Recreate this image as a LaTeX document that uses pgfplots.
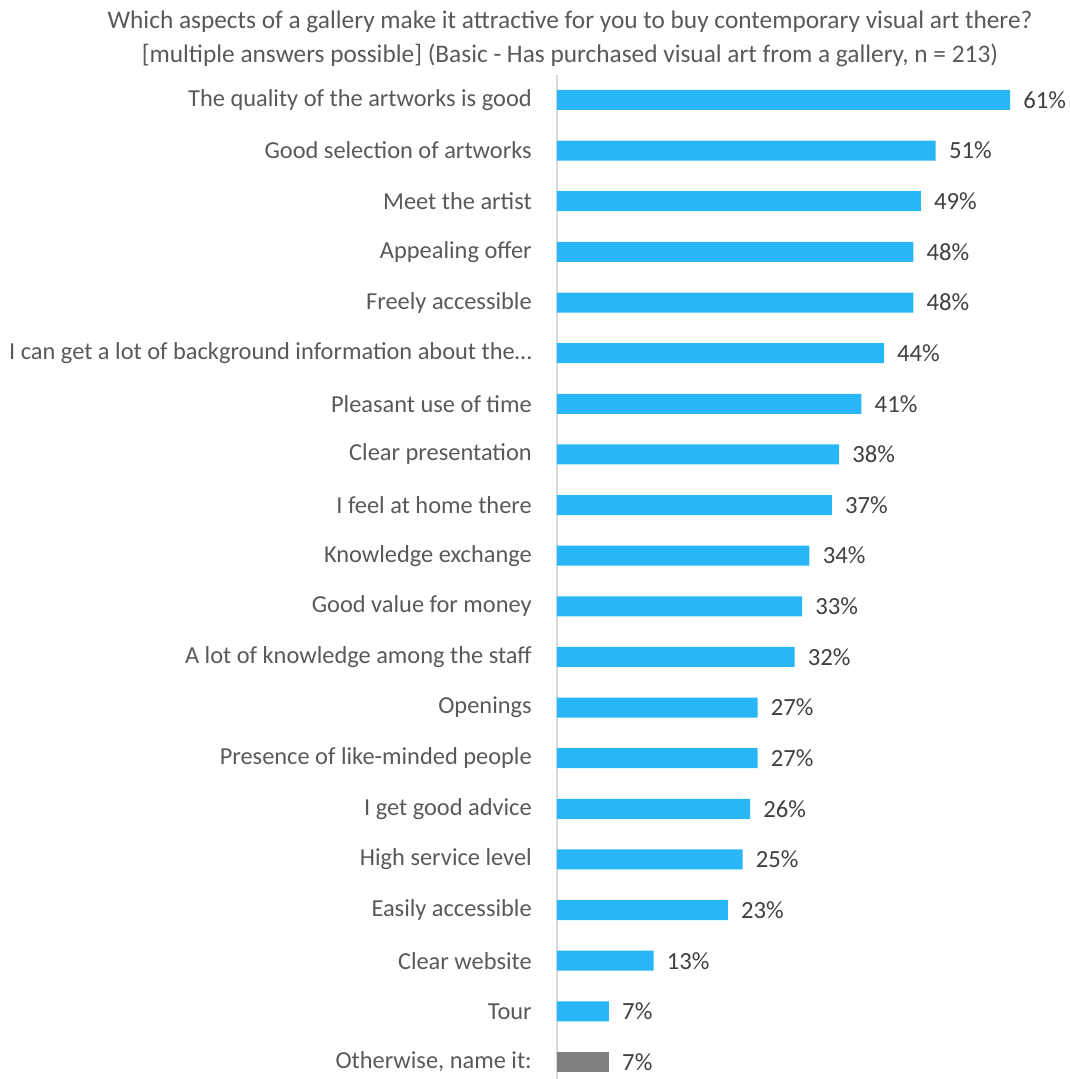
\documentclass[border=0pt]{standalone}
\usepackage{pgfplots}
\pgfplotsset{compat=1.18}
\usepackage{fontspec}
\setmainfont{Carlito}
\definecolor{barblue}{HTML}{29B6F6}
\definecolor{bargray}{HTML}{808080}
\definecolor{labgray}{HTML}{595959}
\definecolor{valgray}{HTML}{404040}
\definecolor{axgray}{HTML}{D9D9D9}
\begin{document}
\begin{tikzpicture}
\path[use as bounding box] (0,0) rectangle (802.5pt,-809.25pt);
\node[text=labgray, font=\fontsize{19}{25}\selectfont, align=center, anchor=center] at (427.5pt,-29.2pt)
 {Which aspects of a gallery make it attractive for you to buy contemporary visual art there?\\{}%
 [multiple answers possible] (Basic - Has purchased visual art from a gallery, n = 213)};
\begin{axis}[
  at={(417.75pt,-56.0pt)}, anchor=north west,
  scale only axis, width=378.75pt, height=759.45pt,
  xmin=0, xmax=68, ymin=-0.5, ymax=19.5,
  xbar, bar width=15pt,
  axis x line=none,
  axis y line*=left,
  y axis line style={draw=axgray, line width=1.5pt},
  xtick=\empty,
  ytick={0,...,19},
  yticklabels={{Otherwise, name it:},Tour,Clear website,Easily accessible,High service level,I get good advice,Presence of like-minded people,Openings,A lot of knowledge among the staff,Good value for money,Knowledge exchange,I feel at home there,Clear presentation,Pleasant use of time,I can get a lot of background information about the…,Freely accessible,Appealing offer,Meet the artist,Good selection of artworks,The quality of the artworks is good},
  major tick length=0pt,
  yticklabel style={anchor=east, inner xsep=0pt, xshift=-18.75pt, text=labgray, font=\fontsize{18.3}{22}\selectfont},
  /pgf/number format/assume math mode=true,
  point meta=x,
  nodes near coords={\pgfmathprintnumber{\pgfplotspointmeta}\%},
  nodes near coords style={anchor=west, inner xsep=0pt, xshift=9.75pt, text=valgray, font=\fontsize{18.5}{22}\selectfont},
  clip=false,
]
\addplot[fill=barblue, draw=none, bar shift=0pt] coordinates {
 (7,1) (13,2) (23,3) (25,4) (26,5) (27,6) (27,7) (32,8) (33,9) (34,10)
 (37,11) (38,12) (41,13) (44,14) (48,15) (48,16) (49,17) (51,18) (61,19)
};
\addplot[fill=bargray, draw=none, bar shift=0pt] coordinates {(7,0)};
\end{axis}
\end{tikzpicture}
\end{document}
